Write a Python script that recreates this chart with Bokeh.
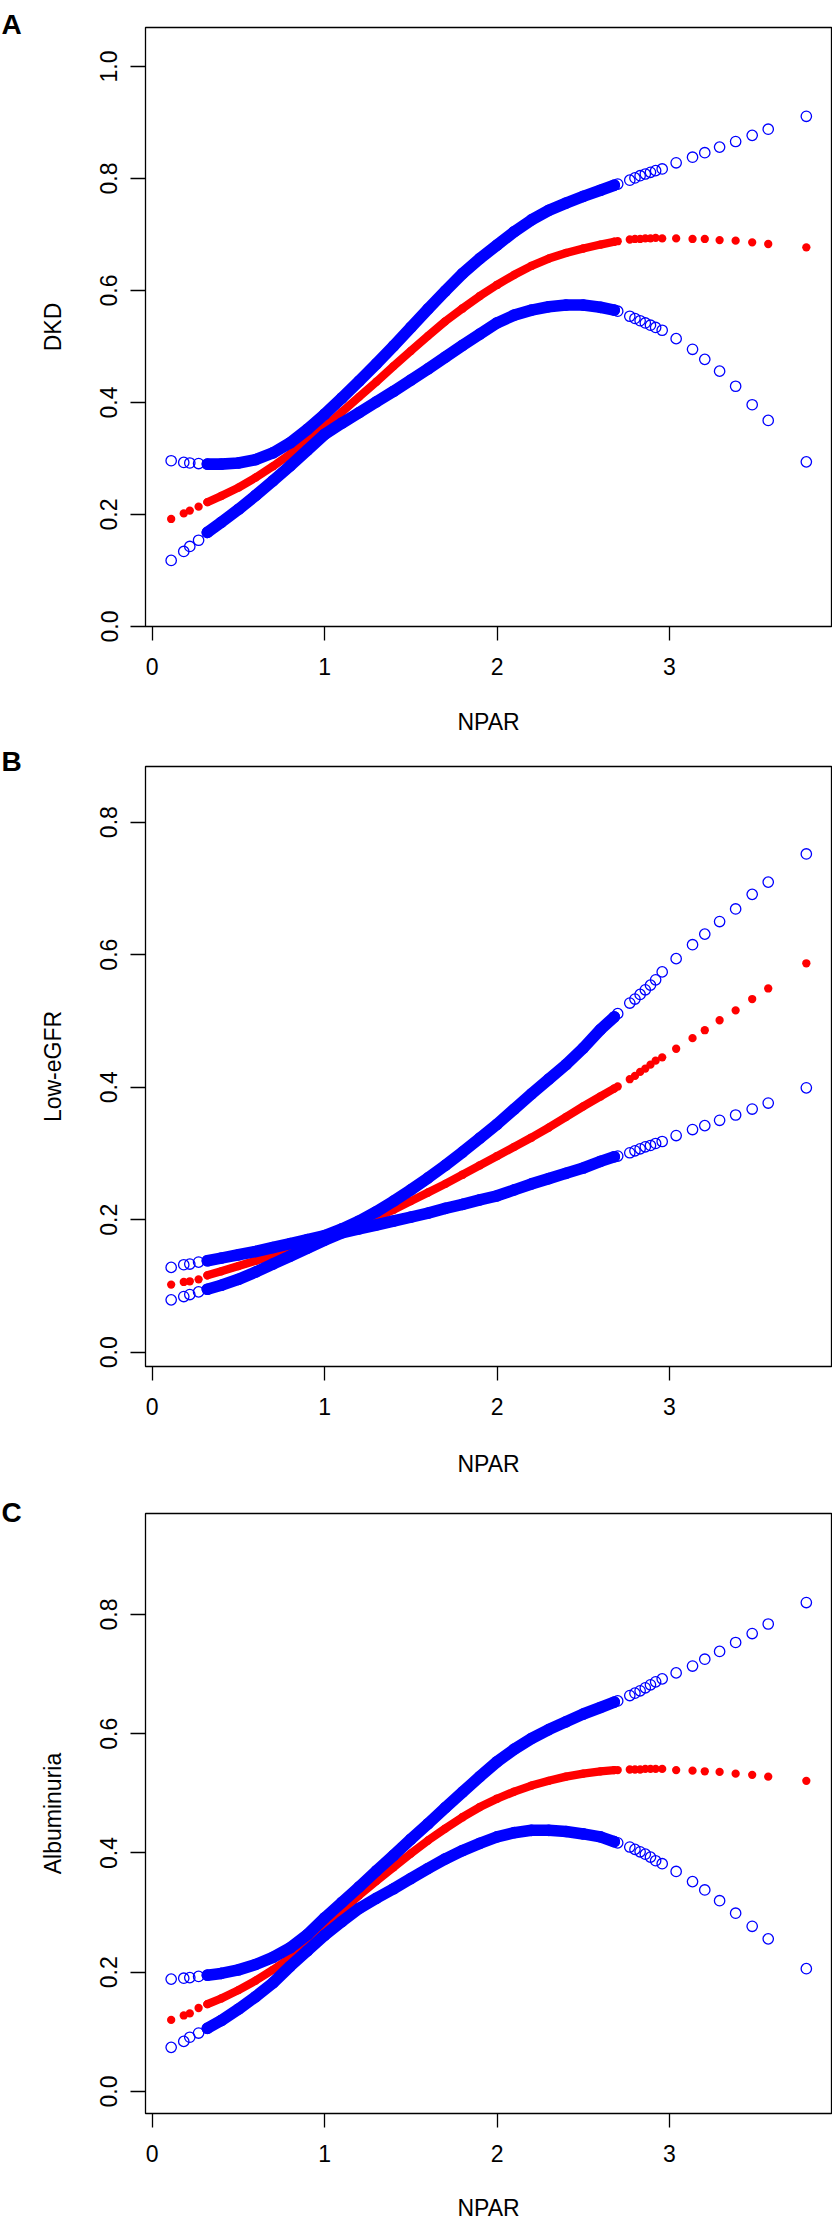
from bokeh.plotting import figure
from bokeh.layouts import column
from bokeh.models import FixedTicker, PrintfTickFormatter, Label, Range1d
from bokeh.embed import file_html
from bokeh.resources import INLINE

# ---------------- data ----------------
NPAR = [0.110, 0.183, 0.218, 0.269,
        0.32, 0.4, 0.5, 0.6, 0.7, 0.8, 0.9, 1.0, 1.1, 1.2, 1.3, 1.4, 1.5, 1.6,
        1.7, 1.8, 1.9, 2.0, 2.1, 2.2, 2.3, 2.4, 2.5, 2.6, 2.68,
        2.70, 2.77, 2.80, 2.83, 2.86, 2.89, 2.92,
        2.958, 3.039, 3.134, 3.205, 3.291, 3.384, 3.480, 3.573, 3.794]

DKD_hi = [0.296, 0.293, 0.292, 0.291,
          0.290, 0.290, 0.292, 0.298, 0.310, 0.328, 0.352, 0.379, 0.408, 0.438, 0.469, 0.501, 0.534, 0.567,
          0.599, 0.630, 0.657, 0.681, 0.705, 0.726, 0.743, 0.756, 0.768, 0.779, 0.788,
          0.790, 0.797, 0.801, 0.805, 0.808, 0.811, 0.814,
          0.817, 0.828, 0.838, 0.846, 0.856, 0.866, 0.877, 0.888, 0.911]
DKD_fit = [0.192, 0.202, 0.207, 0.214,
           0.222, 0.233, 0.248, 0.266, 0.286, 0.308, 0.331, 0.357, 0.383, 0.410, 0.437, 0.465, 0.492, 0.519,
           0.545, 0.568, 0.590, 0.610, 0.628, 0.644, 0.657, 0.667, 0.675, 0.682, 0.687,
           0.688, 0.691, 0.692, 0.692, 0.693, 0.693, 0.694,
           0.693, 0.693, 0.692, 0.692, 0.690, 0.689, 0.686, 0.683, 0.677]
DKD_lo = [0.118, 0.134, 0.143, 0.154,
          0.168, 0.186, 0.209, 0.234, 0.260, 0.287, 0.315, 0.343, 0.363, 0.382, 0.401, 0.420, 0.440, 0.460,
          0.481, 0.502, 0.522, 0.542, 0.556, 0.565, 0.571, 0.574, 0.574, 0.570, 0.565,
          0.563, 0.554, 0.550, 0.546, 0.542, 0.538, 0.534,
          0.529, 0.514, 0.495, 0.477, 0.456, 0.429, 0.396, 0.368, 0.294]

EGFR_hi = [0.128, 0.132, 0.133, 0.136,
           0.138, 0.142, 0.147, 0.152, 0.158, 0.164, 0.170, 0.176, 0.186, 0.198, 0.212, 0.228, 0.245, 0.263,
           0.282, 0.302, 0.323, 0.344, 0.367, 0.390, 0.412, 0.434, 0.459, 0.487, 0.506,
           0.511, 0.527, 0.533, 0.540, 0.547, 0.554, 0.562,
           0.574, 0.594, 0.615, 0.631, 0.650, 0.669, 0.691, 0.7095, 0.752]
EGFR_fit = [0.102, 0.106, 0.107, 0.110,
            0.116, 0.122, 0.130, 0.138, 0.146, 0.154, 0.162, 0.171, 0.181, 0.192, 0.203, 0.215, 0.228, 0.241,
            0.254, 0.268, 0.282, 0.296, 0.310, 0.324, 0.339, 0.355, 0.371, 0.386, 0.398,
            0.401, 0.412, 0.417, 0.423, 0.428, 0.434, 0.440,
            0.445, 0.458, 0.474, 0.486, 0.501, 0.516, 0.533, 0.549, 0.587]
EGFR_lo = [0.079, 0.084, 0.087, 0.091,
           0.095, 0.101, 0.110, 0.121, 0.133, 0.145, 0.157, 0.169, 0.180, 0.186, 0.192, 0.198, 0.204, 0.210,
           0.217, 0.223, 0.230, 0.236, 0.245, 0.254, 0.262, 0.270, 0.278, 0.288, 0.295,
           0.296, 0.301, 0.304, 0.307, 0.310, 0.312, 0.315,
           0.318, 0.327, 0.336, 0.342, 0.350, 0.358, 0.367, 0.376, 0.399]

ALB_hi = [0.1885, 0.190, 0.191, 0.193,
          0.195, 0.198, 0.204, 0.213, 0.225, 0.241, 0.263, 0.291, 0.317, 0.343, 0.370, 0.396, 0.423, 0.449,
          0.476, 0.502, 0.528, 0.553, 0.574, 0.592, 0.607, 0.620, 0.633, 0.644, 0.653,
          0.655, 0.664, 0.668, 0.672, 0.677, 0.682, 0.687,
          0.692, 0.702, 0.7135, 0.725, 0.738, 0.753, 0.768, 0.784, 0.820]
ALB_fit = [0.120, 0.1275, 0.131, 0.140,
           0.1465, 0.156, 0.170, 0.186, 0.204, 0.224, 0.248, 0.276, 0.303, 0.329, 0.353, 0.376, 0.399, 0.421,
           0.441, 0.460, 0.477, 0.491, 0.503, 0.513, 0.521, 0.528, 0.533, 0.537, 0.539,
           0.539, 0.540, 0.540, 0.540, 0.541, 0.541, 0.541,
           0.541, 0.539, 0.538, 0.537, 0.536, 0.533, 0.531, 0.528, 0.521]
ALB_lo = [0.074, 0.084, 0.091, 0.098,
          0.106, 0.119, 0.138, 0.159, 0.182, 0.210, 0.236, 0.262, 0.285, 0.307, 0.324, 0.340, 0.357, 0.374,
          0.390, 0.404, 0.416, 0.427, 0.434, 0.438, 0.438, 0.436, 0.432, 0.427, 0.419,
          0.417, 0.410, 0.406, 0.402, 0.398, 0.393, 0.387,
          0.382, 0.369, 0.352, 0.338, 0.320, 0.299, 0.277, 0.256, 0.206]

X_TICKS = [0, 1, 2, 3]
Y_TICKS_A = [0.0, 0.2, 0.4, 0.6, 0.8, 1.0]
Y_TICKS_BC = [0.0, 0.2, 0.4, 0.6, 0.8]

DENSE_MIN, DENSE_MAX = 0.32, 2.68   # range where the points merge into a solid band

FONT = "Liberation Sans"
BLUE = "#0000FF"
RED = "#FF0000"


def panel_letter(letter, baseline):
    kw = dict(text=letter, text_font=FONT, text_font_size="28px",
              text_font_style="bold", text_color="black",
              text_align="left", text_baseline="alphabetic")
    try:
        return Label(x=1, y=baseline, x_units="canvas", y_units="canvas", **kw)
    except Exception:
        return Label(x=-144, y=0, x_units="screen", y_units="screen", **kw)


def make_panel(letter, ylabel, hi, fit, lo, yr, yticks, height,
               b_top, b_bottom, x_std, x_lab_std, letter_base):
    p = figure(width=832, height=height, output_backend="svg", toolbar_location=None,
               x_range=Range1d(-0.0389, 3.940), y_range=Range1d(*yr),
               min_border_left=145, min_border_right=1,
               min_border_top=b_top, min_border_bottom=b_bottom)
    p.background_fill_color = "white"
    p.border_fill_color = "white"
    p.outline_line_color = "black"
    p.outline_line_width = 1.3
    p.outline_line_alpha = 1.0
    p.xgrid.visible = False
    p.ygrid.visible = False

    idx = [i for i, v in enumerate(NPAR) if DENSE_MIN <= v <= DENSE_MAX]
    xd = [NPAR[i] for i in idx]

    # fitted curve (red, drawn first)
    p.line(xd, [fit[i] for i in idx], line_width=8.3, color=RED,
           line_cap="round", line_join="round")
    p.scatter(NPAR, fit, size=8.3, fill_color=RED, line_color=None)

    # confidence bounds (blue open circles)
    for band in (lo, hi):
        p.line(xd, [band[i] for i in idx], line_width=11.6, color=BLUE,
               line_cap="round", line_join="round")
        p.scatter(NPAR, band, size=10.4, fill_color=None, line_color=BLUE,
                  line_width=1.3)

    xa = p.xaxis[0]
    ya = p.yaxis[0]
    xa.ticker = FixedTicker(ticks=X_TICKS)
    ya.ticker = FixedTicker(ticks=yticks)
    ya.formatter = PrintfTickFormatter(format="%.1f")
    xa.axis_label = "NPAR"
    ya.axis_label = ylabel
    for ax in (xa, ya):
        ax.axis_line_color = None
        ax.major_tick_line_color = "black"
        ax.major_tick_line_width = 1.3
        ax.major_tick_in = 0
        ax.minor_tick_line_color = None
        ax.major_label_text_font = FONT
        ax.major_label_text_font_size = "23px"
        ax.major_label_text_color = "black"
        ax.axis_label_text_font = FONT
        ax.axis_label_text_font_size = "23px"
        ax.axis_label_text_font_style = "normal"
        ax.axis_label_text_color = "black"
    xa.major_tick_out = 14
    ya.major_tick_out = 15
    ya.major_label_orientation = "vertical"
    xa.major_label_standoff = x_std
    xa.axis_label_standoff = x_lab_std
    ya.major_label_standoff = 13
    ya.axis_label_standoff = 32

    # panel letter placed in a side panel so that it is not clipped to the frame
    p.add_layout(panel_letter(letter, letter_base), "left")
    return p


# page y: A 0..740, B 740..1490, C 1490..2226
pA = make_panel("A", "DKD", DKD_hi, DKD_fit, DKD_lo, (0.0, 1.0696), Y_TICKS_A,
                740, 27, 114, 17, 31, 24)
pB = make_panel("B", "Low-eGFR", EGFR_hi, EGFR_fit, EGFR_lo, (-0.0216, 0.884), Y_TICKS_BC,
                750, 26, 124, 17, 33, 21)
pC = make_panel("C", "Albuminuria", ALB_hi, ALB_fit, ALB_lo, (-0.0369, 0.9693), Y_TICKS_BC,
                736, 23, 113, 17, 30, 22)

layout = column(pA, pB, pC, spacing=0)
open("out.html", "w").write(file_html(layout, INLINE))
